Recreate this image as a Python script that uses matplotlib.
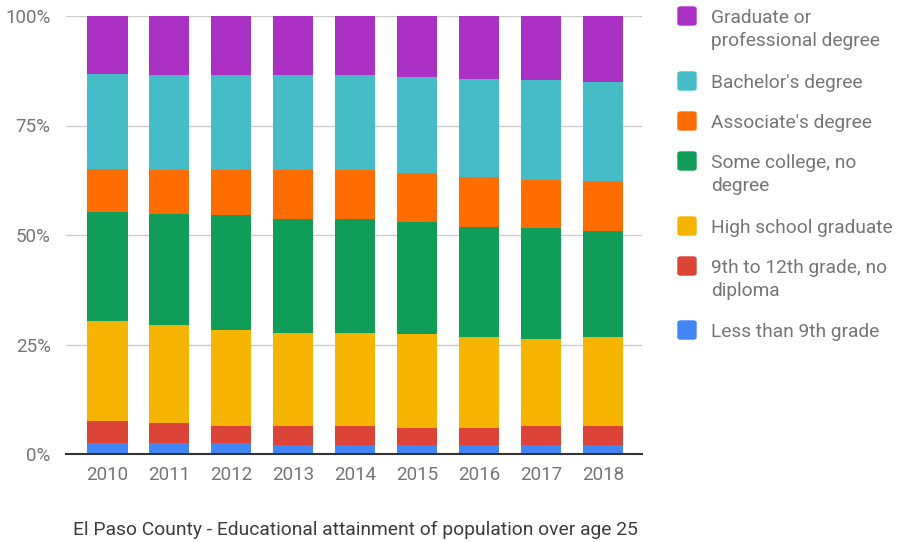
import numpy as np
import matplotlib
matplotlib.use("Agg")
import matplotlib.pyplot as plt
from matplotlib.patches import FancyBboxPatch

plt.rcParams['font.family'] = ['Roboto', 'DejaVu Sans']

years = ['2010', '2011', '2012', '2013', '2014', '2015', '2016', '2017', '2018']

# shares of population over 25 (percent), bottom to top
less_9th = [2.4, 2.4, 2.4, 2.0, 2.0, 2.0, 2.0, 2.0, 2.0]
grade_9_12 = [5.1, 4.7, 4.0, 4.4, 4.4, 4.0, 4.0, 4.4, 4.4]
high_school = [22.8, 22.4, 22.0, 21.2, 21.2, 21.3, 20.6, 19.8, 20.2]
some_college = [25.0, 25.4, 26.1, 26.1, 26.1, 25.7, 25.3, 25.4, 24.2]
associate = [9.8, 9.9, 10.3, 11.1, 11.1, 11.1, 11.4, 11.0, 11.5]
bachelor = [21.7, 21.7, 21.7, 21.7, 21.7, 22.0, 22.4, 22.7, 22.6]
graduate = [13.2, 13.5, 13.5, 13.5, 13.5, 13.9, 14.3, 14.7, 15.1]

series = [less_9th, grade_9_12, high_school, some_college, associate, bachelor, graduate]
labels = ['Less than 9th grade', '9th to 12th grade, no\ndiploma', 'High school graduate',
          'Some college, no\ndegree', "Associate's degree", "Bachelor's degree",
          'Graduate or\nprofessional degree']
colors = ['#4285F4', '#DB4437', '#F4B400', '#0F9D58', '#FF6D01', '#46BDC6', '#AB30C4']

fig = plt.figure(figsize=(9.03, 5.42), dpi=100)
ax = fig.add_axes([66 / 903, 1 - 454 / 542, 576 / 903, 438 / 542])

x = np.arange(len(years))
bottom = np.zeros(len(years))
for vals, col in zip(series, colors):
    ax.bar(x, vals, width=0.646, bottom=bottom, color=col, zorder=3)
    bottom += np.array(vals)

ax.set_xlim(-0.67, 8.63)
ax.set_ylim(0, 100)
ax.set_yticks([0, 25, 50, 75, 100])
ax.set_yticklabels(['0%', '25%', '50%', '75%', '100%'])
ax.set_xticks(x)
ax.set_xticklabels(years)
ax.tick_params(length=0, labelsize=13.5, colors='#757575')
ax.tick_params(axis='y', pad=11)
ax.tick_params(axis='x', pad=9)
ax.grid(axis='y', color='#cccccc', linewidth=1, zorder=0)
for s in ['top', 'right', 'left']:
    ax.spines[s].set_visible(False)
ax.spines['bottom'].set_color('#333333')
ax.spines['bottom'].set_linewidth(1.5)
ax.spines['bottom'].set_zorder(4)

fig.text(355 / 903, 1 - 530 / 542, 'El Paso County - Educational attainment of population over age 25',
         ha='center', va='center', fontsize=13.9, color='#3c3c3c')

# legend, top to bottom
leg_y = [16, 81, 121, 161, 226, 266, 330]
for lab, col, yy in zip(labels[::-1], colors[::-1], leg_y):
    fig.patches.append(FancyBboxPatch((678 / 903, 1 - (yy + 9) / 542), 18 / 903, 18 / 542,
                                      boxstyle='round,pad=0,rounding_size=0.003',
                                      transform=fig.transFigure, color=col))
    fig.text(711 / 903, 1 - (yy - 7) / 542, lab, ha='left', va='top', fontsize=13.8,
             color='#757575', linespacing=1.38)

fig.savefig('out.png', dpi=100)
